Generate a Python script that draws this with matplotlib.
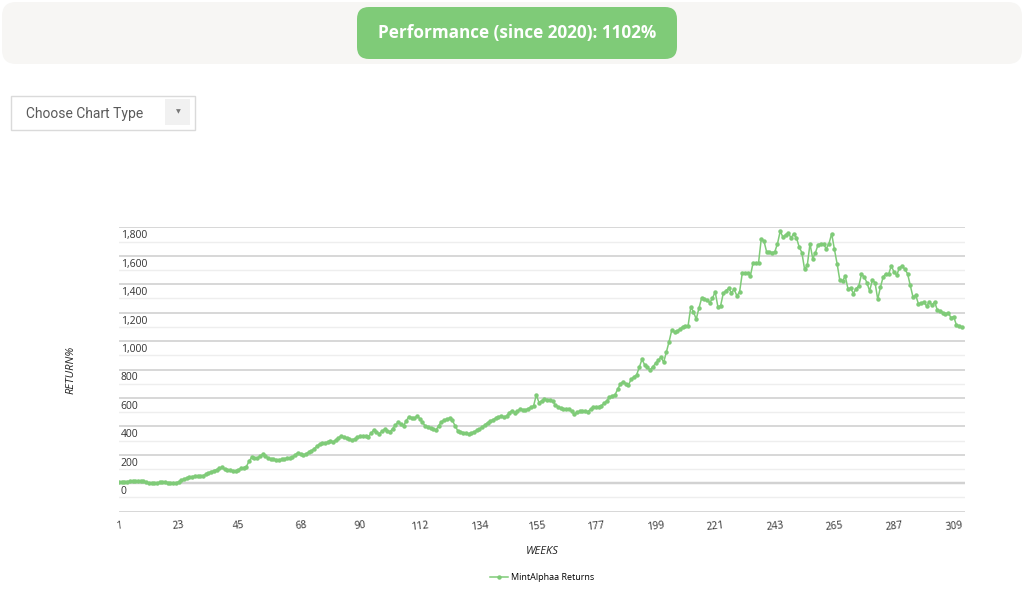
import numpy as np
import matplotlib.pyplot as plt
import matplotlib.transforms as mtransforms
from matplotlib.patches import FancyBboxPatch, Rectangle

# weekly returns (%)
weeks = np.arange(1, 313)
returns = [
    10, 11, 12, 12, 14, 15, 16, 17, 18, 14,
    6, 1, 0, 0, 1, 6, 10, 7, 5, 3,
    2, 2, 10, 23, 30, 37, 43, 47, 50, 52,
    53, 54, 62, 72, 82, 88, 96, 104, 112, 97,
    95, 92, 89, 86, 95, 104, 110, 117, 155, 183,
    179, 176, 190, 204, 190, 178, 171, 169, 166, 166,
    168, 172, 176, 180, 183, 200, 215, 205, 197, 208,
    218, 229, 243, 260, 276, 282, 285, 288, 300, 290,
    305, 320, 333, 325, 316, 309, 304, 312, 322, 330,
    333, 330, 328, 350, 375, 360, 347, 365, 380, 370,
    362, 385, 408, 429, 415, 403, 440, 468, 462, 457,
    473, 455, 428, 403, 395, 387, 380, 375, 405, 433,
    445, 452, 457, 443, 405, 370, 363, 356, 350, 345,
    353, 362, 372, 380, 395, 410, 426, 437, 447, 458,
    468, 470, 466, 473, 495, 511, 497, 508, 520, 518,
    515, 525, 535, 544, 621, 567, 580, 591, 588, 585,
    581, 550, 539, 528, 520, 522, 525, 505, 487, 498,
    505, 511, 507, 504, 520, 534, 536, 539, 545, 562,
    580, 605, 615, 621, 660, 698, 715, 700, 691, 731,
    748, 762, 815, 872, 832, 815, 797, 820, 844, 865,
    886, 851, 925, 996, 1078, 1062, 1072, 1083, 1101, 1104,
    1106, 1238, 1207, 1153, 1230, 1301, 1295, 1289, 1270, 1300,
    1347, 1242, 1247, 1336, 1355, 1371, 1339, 1364, 1319, 1343,
    1477, 1479, 1481, 1458, 1551, 1546, 1549, 1716, 1704, 1627,
    1625, 1622, 1627, 1685, 1772, 1732, 1748, 1760, 1725, 1755,
    1727, 1662, 1622, 1505, 1533, 1685, 1580, 1622, 1678, 1685,
    1680, 1650, 1685, 1755, 1646, 1544, 1428, 1423, 1456, 1369,
    1372, 1334, 1369, 1386, 1470, 1451, 1411, 1352, 1428, 1411,
    1294, 1380, 1451, 1474, 1470, 1528, 1486, 1463, 1516, 1528,
    1505, 1474, 1392, 1310, 1322, 1263, 1268, 1275, 1247, 1275,
    1254, 1275, 1217, 1212, 1200, 1188, 1200, 1165, 1172, 1115,
    1106, 1099,
]

x_ticks = [1, 23, 45, 68, 90, 112, 134, 155, 177, 199, 221, 243, 265, 287, 309]
y_ticks = [0, 200, 400, 600, 800, 1000, 1200, 1400, 1600, 1800]
y_labels = ['0', '200', '400', '600', '800', '1,000', '1,200', '1,400', '1,600', '1,800']

green = '#7fcb78'
font = 'Open Sans'

fig = plt.figure(figsize=(10.24, 5.98), dpi=100)

# page furniture, in pixel units
bg = fig.add_axes([0, 0, 1, 1])
bg.set_xlim(0, 1024)
bg.set_ylim(598, 0)
bg.axis('off')
bg.add_patch(FancyBboxPatch((2, 2), 1020, 62, boxstyle='round,pad=0,rounding_size=14',
                            fc='#f7f6f4', ec='none'))
bg.add_patch(FancyBboxPatch((357, 7), 320, 52, boxstyle='round,pad=0,rounding_size=12',
                            fc=green, ec='none'))
bg.text(517, 33, 'Performance (since 2020): 1102%', color='white', fontsize=12.3,
        fontweight='bold', family=font, ha='center', va='center')
bg.add_patch(Rectangle((10.5, 95.5), 184.5, 34, fc='white', ec='#dadada', lw=1))
bg.add_patch(Rectangle((165, 99), 25, 26, fc='#f1f1f1', ec='none'))
bg.text(178, 112, '\u25BC', fontsize=4.5, color='#777777', ha='center', va='center',
        family='DejaVu Sans')
bg.text(26, 114, 'Choose Chart Type', fontsize=10, color='#5a5a5a', family='Roboto',
        ha='left', va='center')

# chart
ax = fig.add_axes([119 / 1024, 1 - 511.7 / 598, (965 - 119) / 1024, (511.7 - 227.3) / 598])
ax.set_facecolor('none')
ax.set_xlim(1, 313.2)
ax.set_ylim(-200, 1800)
ax.set_yticks(range(-200, 1801, 200))
ax.set_yticks(range(-100, 1800, 200), minor=True)
ax.grid(which='major', axis='y', color='#d4d4d4', lw=1.3)
ax.grid(which='minor', axis='y', color='#eeeeee', lw=1.0)
ax.axhline(0, color='#c6c6c6', lw=1.7, zorder=1)
ax.tick_params(axis='y', which='both', length=0, labelleft=False)
for s in ax.spines.values():
    s.set_visible(False)

ax.plot(weeks, returns, color=green, lw=1.1, marker='o', ms=2.2, zorder=3,
        label='MintAlphaa Returns')

trans = mtransforms.blended_transform_factory(ax.transAxes, ax.transData) + \
    mtransforms.ScaledTranslation(0, -8.5 / 100, fig.dpi_scale_trans)
for v, lab in zip(y_ticks, y_labels):
    ax.text(0.002, v, lab, transform=trans, fontsize=7.5, color='#333333',
            family=font, ha='left', va='center')

ax.set_xticks(x_ticks)
ax.set_xticklabels([str(t) for t in x_ticks], fontsize=7.5, color='#333333',
                   family=font, rotation=6)
ax.tick_params(axis='x', length=0, pad=6)

fig.text(542 / 1024, 1 - 551 / 598, 'WEEKS', fontsize=8, style='italic', color='#222222',
         family=font, ha='center', va='center')
fig.text(71 / 1024, 1 - 370 / 598, 'RETURN%', fontsize=8, style='italic', color='#222222',
         family=font, ha='center', va='center', rotation=90)

leg = fig.legend(loc='center', bbox_to_anchor=(542 / 1024, 1 - 578 / 598), frameon=False,
                 prop={'family': font, 'size': 6.5}, handlelength=2.0, handletextpad=0.4)

fig.savefig('out.png', dpi=100)
